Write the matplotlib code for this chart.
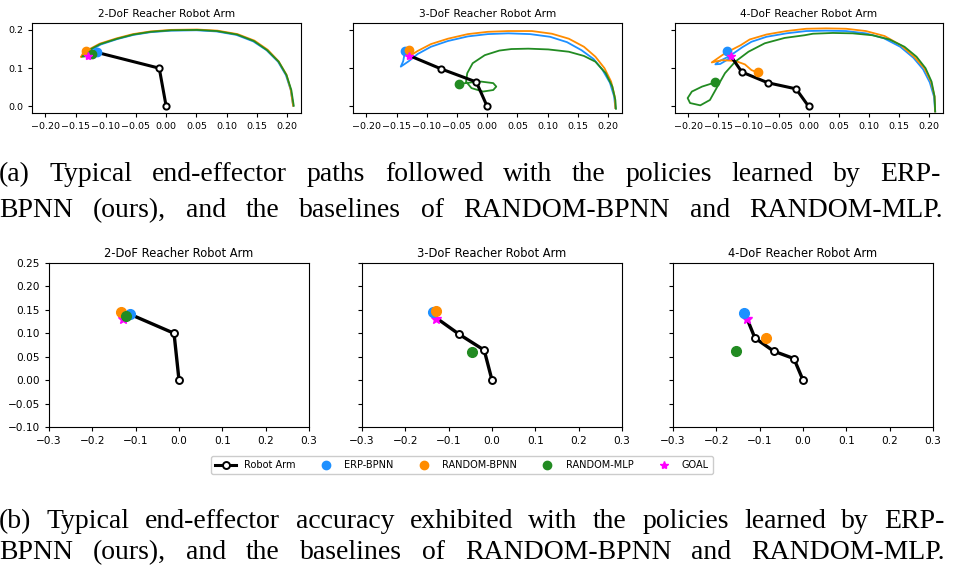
import matplotlib
matplotlib.use("Agg")
import matplotlib.pyplot as plt
from matplotlib.lines import Line2D
import numpy as np

W, H = 957, 566

# ---- arm joint positions (x, y) ----
arm2 = [(0.0, 0.0), (-0.0115, 0.100), (-0.114, 0.141)]
arm3 = [(0.0, 0.0), (-0.018, 0.064), (-0.076, 0.098), (-0.129, 0.133)]
arm4 = [(0.0, 0.0), (-0.021, 0.046), (-0.068, 0.062), (-0.111, 0.090), (-0.129, 0.131)]

goal = (-0.129, 0.131)

# ---- end-effector paths (top row) ----
erp2_x = [0.210, 0.206, 0.198, 0.185, 0.166, 0.144, 0.116, 0.083, 0.050, 0.008, -0.026, -0.054, -0.081, -0.108, -0.126, -0.132, -0.120, -0.114]
erp2_y = [0.002, 0.043, 0.082, 0.117, 0.147, 0.170, 0.187, 0.196, 0.199, 0.198, 0.194, 0.187, 0.176, 0.162, 0.146, 0.136, 0.137, 0.141]
rbp2_x = [0.210, 0.206, 0.199, 0.186, 0.168, 0.146, 0.118, 0.085, 0.051, 0.008, -0.026, -0.055, -0.082, -0.110, -0.129, -0.141, -0.138, -0.133]
rbp2_y = [0.002, 0.044, 0.083, 0.118, 0.148, 0.172, 0.189, 0.198, 0.201, 0.200, 0.196, 0.189, 0.178, 0.164, 0.148, 0.129, 0.138, 0.145]
mlp2_x = [0.211, 0.207, 0.199, 0.186, 0.167, 0.145, 0.117, 0.084, 0.051, 0.008, -0.026, -0.054, -0.081, -0.109, -0.128, -0.139, -0.133, -0.122]
mlp2_y = [0.002, 0.043, 0.082, 0.117, 0.147, 0.171, 0.188, 0.197, 0.200, 0.199, 0.195, 0.188, 0.177, 0.163, 0.147, 0.130, 0.131, 0.136]

erp3_x = [0.212, 0.210, 0.203, 0.191, 0.176, 0.156, 0.132, 0.104, 0.071, 0.035, 0.001, -0.032, -0.065, -0.093, -0.115, -0.130, -0.143, -0.139, -0.137, -0.136]
erp3_y = [-0.004, 0.026, 0.062, 0.095, 0.124, 0.147, 0.168, 0.182, 0.189, 0.191, 0.189, 0.183, 0.171, 0.156, 0.137, 0.118, 0.104, 0.118, 0.135, 0.145]
rbp3_x = [0.212, 0.211, 0.205, 0.194, 0.179, 0.160, 0.135, 0.107, 0.074, 0.035, 0.001, -0.032, -0.065, -0.093, -0.115, -0.126, -0.129]
rbp3_y = [-0.004, 0.026, 0.065, 0.100, 0.130, 0.156, 0.177, 0.190, 0.197, 0.197, 0.195, 0.189, 0.177, 0.163, 0.145, 0.134, 0.148]
mlp3_x = [0.213, 0.212, 0.207, 0.196, 0.179, 0.160, 0.135, 0.101, 0.068, 0.040, 0.020, -0.004, -0.024, -0.033, -0.035, -0.026, -0.007, 0.010, 0.015, 0.010, -0.010, -0.026, -0.046]
mlp3_y = [-0.006, 0.017, 0.052, 0.087, 0.117, 0.132, 0.143, 0.149, 0.151, 0.150, 0.146, 0.134, 0.113, 0.087, 0.065, 0.048, 0.039, 0.043, 0.052, 0.061, 0.065, 0.063, 0.059]

erp4_x = [0.210, 0.208, 0.201, 0.190, 0.174, 0.152, 0.125, 0.095, 0.062, 0.029, -0.004, -0.037, -0.070, -0.095, -0.110, -0.131, -0.150, -0.155, -0.147, -0.133, -0.136]
erp4_y = [-0.013, 0.026, 0.063, 0.097, 0.127, 0.156, 0.178, 0.191, 0.197, 0.198, 0.197, 0.191, 0.182, 0.169, 0.155, 0.132, 0.117, 0.110, 0.111, 0.124, 0.144]
rbp4_x = [0.210, 0.209, 0.203, 0.192, 0.175, 0.153, 0.126, 0.095, 0.062, 0.029, -0.004, -0.037, -0.070, -0.098, -0.113, -0.139, -0.161, -0.144, -0.122, -0.106, -0.095, -0.085]
rbp4_y = [-0.013, 0.026, 0.065, 0.100, 0.130, 0.160, 0.184, 0.197, 0.203, 0.204, 0.203, 0.197, 0.188, 0.175, 0.160, 0.139, 0.115, 0.121, 0.119, 0.110, 0.095, 0.089]
mlp4_x = [0.210, 0.209, 0.204, 0.194, 0.179, 0.159, 0.134, 0.106, 0.073, 0.040, 0.007, -0.007, -0.040, -0.073, -0.100, -0.122, -0.139, -0.153, -0.164, -0.180, -0.197, -0.201, -0.194, -0.177, -0.155]
mlp4_y = [-0.013, 0.026, 0.065, 0.100, 0.130, 0.156, 0.175, 0.186, 0.191, 0.192, 0.190, 0.186, 0.179, 0.165, 0.143, 0.117, 0.087, 0.048, 0.017, 0.003, 0.009, 0.022, 0.039, 0.052, 0.063]

titles = ["2-DoF Reacher Robot Arm", "3-DoF Reacher Robot Arm", "4-DoF Reacher Robot Arm"]
arms = [arm2, arm3, arm4]
paths = [
    [(erp2_x, erp2_y), (rbp2_x, rbp2_y), (mlp2_x, mlp2_y)],
    [(erp3_x, erp3_y), (rbp3_x, rbp3_y), (mlp3_x, mlp3_y)],
    [(erp4_x, erp4_y), (rbp4_x, rbp4_y), (mlp4_x, mlp4_y)],
]
names = ["ERP-BPNN", "RANDOM-BPNN", "RANDOM-MLP"]
colors = ["dodgerblue", "darkorange", "forestgreen"]

caption_a = ["(a) Typical end-effector paths followed with the policies learned by ERP-",
             "BPNN (ours), and the baselines of RANDOM-BPNN and RANDOM-MLP."]
caption_b = ["(b) Typical end-effector accuracy exhibited with the policies learned by ERP-",
             "BPNN (ours), and the baselines of RANDOM-BPNN and RANDOM-MLP."]

fig = plt.figure(figsize=(W / 100, H / 100), dpi=100)


def box(x0, y0, x1, y1):
    return [x0 / W, 1 - y1 / H, (x1 - x0) / W, (y1 - y0) / H]


def draw_arm(ax, arm, lw, ms):
    a = np.array(arm)
    ax.plot(a[:, 0], a[:, 1], color="black", lw=lw, zorder=3)
    ax.plot(a[:-1, 0], a[:-1, 1], "o", color="black", mfc="white", mew=1.4, ms=ms, zorder=4)


top_boxes = [(32, 23, 301, 113), (353, 23, 622, 113), (675, 23, 943, 113)]
bot_boxes = [(49, 263, 309, 427), (362, 263, 622, 427), (673, 263, 933, 427)]

# ---- top row: paths ----
for i in range(3):
    ax = fig.add_axes(box(*top_boxes[i]))
    for (px, py), c in zip(paths[i], colors):
        ax.plot(px, py, color=c, lw=1.3, zorder=2)
    draw_arm(ax, arms[i], 2.2, 4.5)
    for (px, py), c in zip(paths[i], colors):
        ax.plot(px[-1], py[-1], "o", color=c, ms=6, zorder=5)
    ax.plot(goal[0], goal[1], "*", color="magenta", ms=6, zorder=6)
    ax.set_xlim(-0.222, 0.223)
    ax.set_ylim(-0.017, 0.218)
    ax.set_xticks(np.arange(-0.20, 0.201, 0.05))
    ax.set_yticks([0.0, 0.1, 0.2])
    ax.tick_params(labelsize=6.8, length=3)
    if i > 0:
        ax.set_yticklabels([])
    ax.set_title(titles[i], fontsize=7.6, pad=4)

# ---- bottom row: final accuracy ----
for i in range(3):
    ax = fig.add_axes(box(*bot_boxes[i]))
    draw_arm(ax, arms[i], 2.4, 5)
    ax.plot(goal[0], goal[1], "*", color="magenta", ms=7, zorder=5)
    for (px, py), c in zip(paths[i], colors):
        ax.plot(px[-1], py[-1], "o", color=c, ms=7, zorder=6)
    ax.set_xlim(-0.3, 0.3)
    ax.set_ylim(-0.10, 0.25)
    ax.set_xticks(np.arange(-0.3, 0.301, 0.1))
    ax.set_yticks(np.arange(-0.10, 0.251, 0.05))
    ax.tick_params(labelsize=7.6, length=3)
    if i > 0:
        ax.set_yticklabels([])
    ax.set_title(titles[i], fontsize=8.3, pad=4)

handles = [Line2D([], [], color="black", lw=2.2, marker="o", mfc="white", mec="black", mew=1.4, ms=5)]
for n, c in zip(names, colors):
    handles.append(Line2D([], [], ls="none", marker="o", color=c, ms=6))
handles.append(Line2D([], [], ls="none", marker="*", color="magenta", ms=6))
fig.legend(handles, ["Robot Arm"] + names + ["GOAL"], ncol=5, fontsize=7.0,
           loc="center", bbox_to_anchor=(462 / W, 1 - 465 / H), handlelength=2.2,
           handletextpad=0.8, columnspacing=2.0, borderpad=0.4, framealpha=1)

# ---- justified captions ----
renderer = fig.canvas.get_renderer()


def justify(line, x0, x1, y_base, size):
    words = line.split(" ")
    texts = [fig.text(0, 1 - y_base / H, w, fontsize=size, family="Liberation Serif",
                      va="baseline", ha="left") for w in words]
    widths = [t.get_window_extent(renderer).width for t in texts]
    gap = (x1 - x0 - sum(widths)) / (len(words) - 1)
    x = x0
    for t, w in zip(texts, widths):
        t.set_x(x / W)
        x += w + gap


justify(caption_a[0], -1, 941, 181, 20)
justify(caption_a[1], -1, 943, 217, 20)
justify(caption_b[0], -1, 945, 528, 20)
justify(caption_b[1], -1, 945, 559, 20)

fig.savefig("out.png", dpi=100)
